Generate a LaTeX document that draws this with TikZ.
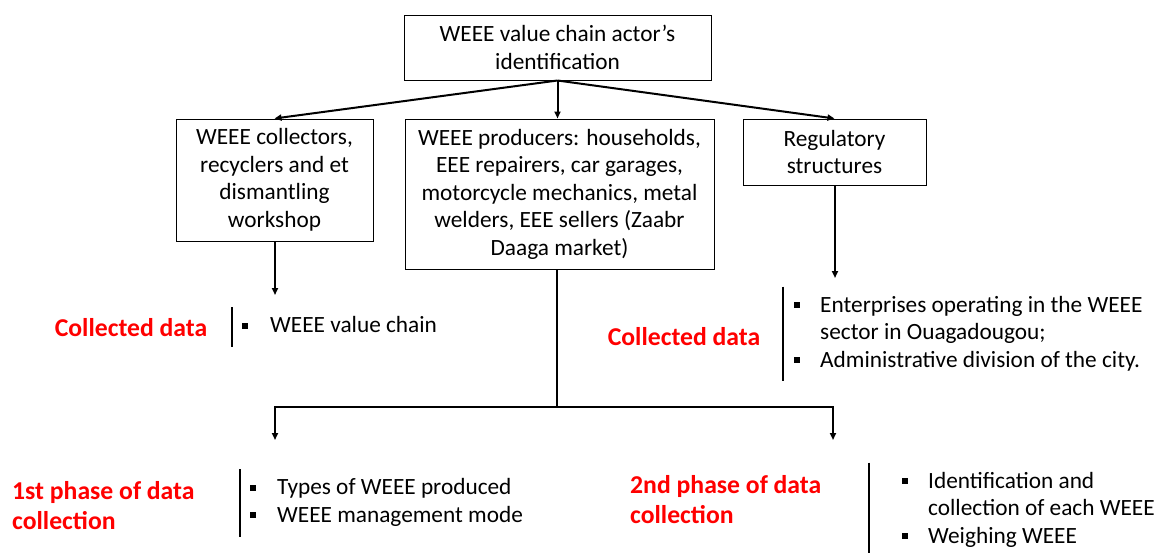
\documentclass[tikz,border=0pt]{standalone}
\usepackage{fontspec}
\setmainfont{Carlito}
\usepackage{tikz}
\usetikzlibrary{arrows.meta,positioning}
\definecolor{phasered}{RGB}{255,0,0}
\newcommand{\sqbullet}{\raisebox{4pt}{\rule{6pt}{6pt}}}

\begin{document}
\begin{tikzpicture}[x=1pt,y=1pt,
		actor/.style={draw,line width=1pt,align=center,inner sep=0pt,font=\fontsize{23.3}{27.5}\selectfont},
		datalabel/.style={text=phasered,align=left,inner sep=0pt,font=\fontsize{25.7}{30}\bfseries\selectfont},
		datalist/.style={anchor=west,inner ysep=6pt,font=\fontsize{23.3}{27.5}\selectfont},
		flow/.style={line width=2pt,-{Triangle[length=7pt,width=6pt]}},
		bar/.style={line width=2pt}]
	\useasboundingbox (0,0) rectangle (1159,-552);

	% boxes
	\node[actor,minimum width=307pt,minimum height=65pt] (actors) at (557.5,-47.5)
		{WEEE value chain actor’s\\identification};
	\node[actor,minimum width=197pt,minimum height=122pt] (collectors) at (274.5,-180)
		{WEEE collectors,\\recyclers and et\\dismantling\\workshop};
	\node[actor,minimum width=309pt,minimum height=150pt] (producers) at (559.5,-194)
		{WEEE producers: households,\\EEE repairers, car garages,\\motorcycle mechanics, metal\\welders, EEE sellers (Zaabr\\Daaga market)};
	\node[actor,minimum width=183pt,minimum height=66pt] (regulators) at (834.5,-152)
		{Regulatory\\structures};

	% collected data
	\node[datalabel] (collected1) at (131,-328) {Collected data};
	\node[datalist,inner xsep=10pt] (list1) at (232,-327)
		{\begin{tabular}{@{}l@{\hspace{22pt}}l@{}}\sqbullet & WEEE value chain\end{tabular}};
	\draw[bar] (list1.north west) -- (list1.south west);

	\node[datalabel] (collected2) at (684,-337) {Collected data};
	\node[datalist,inner xsep=11pt] (list2) at (783,-334)
		{\begin{tabular}{@{}l@{\hspace{20pt}}l@{}}\sqbullet & Enterprises operating in the WEEE\\
		& sector in Ouagadougou;\\ \sqbullet & Administrative division of the city.\end{tabular}};
	\draw[bar] (list2.north west) -- (list2.south west);

	% phases
	\node[datalabel,anchor=west] (phase1) at (12,-506) {1st phase of data\\collection};
	\node[datalist,inner xsep=10pt] (list3) at (240,-503)
		{\begin{tabular}{@{}l@{\hspace{21pt}}l@{}}\sqbullet & Types of WEEE produced\\ \sqbullet & WEEE management mode\end{tabular}};
	\draw[bar] (list3.north west) -- (list3.south west);

	\node[datalabel,anchor=west] (phase2) at (630,-500) {2nd phase of data\\collection};
	\node[datalist,inner xsep=33pt] (list4) at (869,-510)
		{\begin{tabular}{@{}l@{\hspace{20pt}}l@{}}\sqbullet & Identification and\\
		& collection of each WEEE\\ \sqbullet & Weighing WEEE\end{tabular}};
	\draw[bar] (list4.north west) -- (list4.south west);

	% connectors
	\coordinate (leftend) at (275,-295);
	\coordinate (rightend) at (835,-278);
	\coordinate (split) at (557,-407);
	\coordinate (phase1end) at (275,-440);
	\coordinate (phase2end) at (833,-440);

	\draw[flow] (actors.south) -- (collectors.north);
	\draw[flow] (actors.south) -- (actors.south |- producers.north);
	\draw[flow] (actors.south) -- (regulators.north);
	\draw[flow] (collectors.south -| leftend) -- (leftend);
	\draw[flow] (regulators.south -| rightend) -- (rightend);
	\draw[bar] (producers.south -| split) -- (split);
	\draw[flow] (split) -| (phase1end);
	\draw[flow] (split) -| (phase2end);
\end{tikzpicture}
\end{document}
